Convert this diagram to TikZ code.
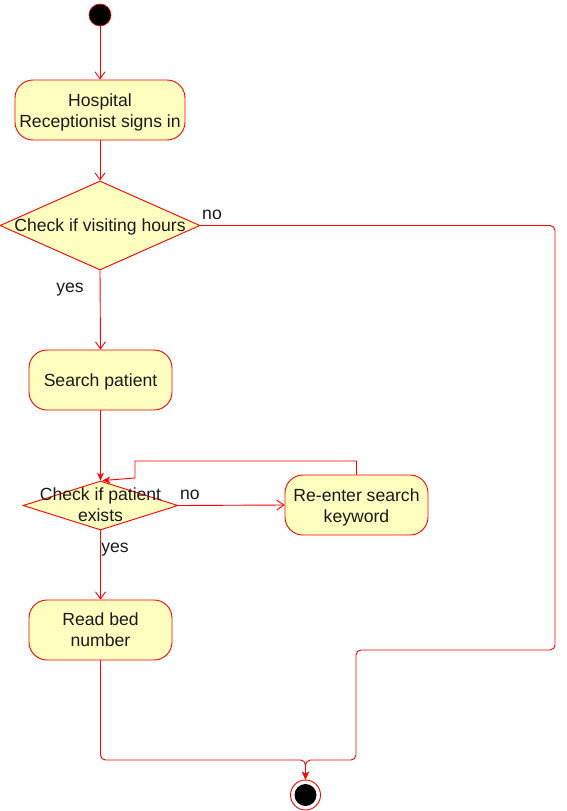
\documentclass[tikz,border=0pt]{standalone}
\usepackage{fontspec}
\setmainfont{Liberation Sans}
\usetikzlibrary{shapes.geometric,arrows.meta}
\definecolor{actfill}{HTML}{FFFFC0}
\definecolor{actline}{HTML}{FF0000}
\definecolor{txt}{HTML}{1A1A1A}
\tikzset{
  base/.style={font=\fontsize{17.6}{21}\selectfont, text=txt},
  actbox/.style={draw=actline, fill=actfill, rounded corners=18pt, line width=0.9pt, minimum width=#1, minimum height=60pt, inner sep=0pt},
  decbox/.style={diamond, draw=actline, fill=actfill, line width=0.9pt, inner sep=0pt},
  boxtext/.style={base, align=center, inner sep=0pt},
  lbl/.style={base, inner sep=0pt},
  flow/.style={draw=actline, line width=0.9pt, -{Straight Barb[length=7pt,width=10pt,line width=0.9pt]}},
  flowf/.style={draw=actline, line width=0.9pt, -{Stealth[length=8pt,width=7pt]}},
}
\begin{document}
\begin{tikzpicture}[x=1pt,y=-1pt]
\useasboundingbox (0,0) rectangle (566,811);
% start
\node[circle, draw=actline, fill=black, minimum size=22pt, inner sep=0pt, line width=0.6pt] (start) at (100,15) {};
% shapes
\node[actbox=170pt] (b1) at (100,110) {};
\node[decbox, minimum width=200pt, minimum height=89pt] (d1) at (100,225.5) {};
\node[actbox=143pt] (b2) at (100.5,380) {};
\node[decbox, minimum width=155pt, minimum height=49pt] (d2) at (100.5,505.5) {};
\node[actbox=143pt] (b3) at (356.5,505) {};
\node[actbox=143pt] (b4) at (100.5,630) {};
% texts
\node[boxtext] (b1t) at (100,112) {Hospital\\Receptionist signs in};
\node[boxtext] (d1t) at (100,227.2) {Check if visiting hours};
\node[boxtext] (b2t) at (100.5,382) {Search patient};
\node[boxtext] (d2t) at (100.5,505) {Check if patient\\exists};
\node[boxtext] (b3t) at (356.5,507) {Re-enter search\\keyword};
\node[boxtext] (b4t) at (100.5,630) {Read bed\\number};
% end
\node[circle, draw=actline, fill=white, minimum size=30pt, inner sep=0pt, line width=0.9pt] (end) at (305.5,795) {};
\node[circle, fill=black, minimum size=22pt, inner sep=0pt] (endin) at (305.5,795) {};
% coordinates
\coordinate (r1) at (555,225.5);
\coordinate (r2) at (555,650);
\coordinate (r3) at (356,650);
\coordinate (r4) at (356,760);
\coordinate (m1) at (305.5,760);
\coordinate (l1) at (100.5,760);
\coordinate (q1) at (356.5,461);
\coordinate (q2) at (135,461);
\coordinate (q3) at (135,478);
% connectors
\draw[flow] (start) -- (b1);
\draw[flow] (b1) -- (d1);
\draw[flow] (d1.south) -- (b2.north);
\draw[flowf] (b2.south) -- (d2.north);
\draw[flow] (d2.east) -- (b3.west);
\draw[flowf] (b3.north) -- (q1) -- (q2) -- (q3) -- ([xshift=2pt]d2.north);
\draw[flow] (d2.south) -- (b4.north);
\draw[flowf, rounded corners=5pt] (d1.east) -- (r1) -- (r2) -- (r3) -- (r4) -- (m1) -- (end.north);
\draw[flowf, rounded corners=5pt] (b4.south) -- (l1) -- (m1) -- (end.north);
% labels
\node[lbl] (no1) at (212,214.5) {no};
\node[lbl] (yes1) at (70,290) {yes};
\node[lbl] (no2) at (190,494.5) {no};
\node[lbl] (yes2) at (115,550) {yes};
\end{tikzpicture}
\end{document}
